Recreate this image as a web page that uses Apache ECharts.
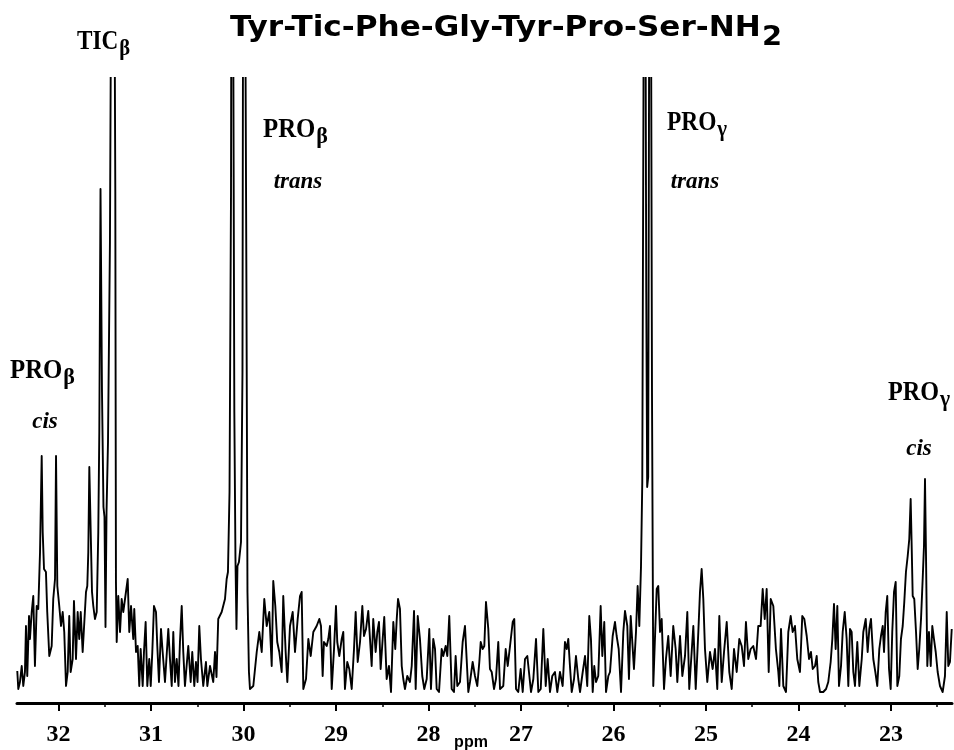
<!DOCTYPE html>
<html>
<head>
<meta charset="utf-8">
<script src="https://cdn.jsdelivr.net/npm/echarts@6/dist/echarts.min.js"></script>
<style>html,body{margin:0;padding:0;background:#fff}#chart{width:954px;height:750px}</style>
</head>
<body>
<div id="chart"></div>
<script>
// ---------------- data ----------------
const titleMain = 'Tyr-Tic-Phe-Gly-Tyr-Pro-Ser-NH';
const titleSub = '2';
const axisUnit = 'ppm';
const majorTicks = [32, 31, 30, 29, 28, 27, 26, 25, 24, 23];
const minorTicks = [31.5, 30.5, 29.5, 28.5, 27.5, 26.5, 25.5, 24.5, 23.5, 22.5];
const ppmMin = 22.34;
const ppmMax = 32.45;

// chemical shift (ppm) of each sample of the trace
const spectrumPpm = [
32.447,32.436,32.418,32.399,32.382,32.364,32.353,32.339,32.320,32.310,32.291,32.274,32.256,32.237,32.220,32.201,32.183,32.172,32.158,32.137,
32.123,32.101,32.075,32.058,32.039,32.028,32.014,31.993,31.974,31.956,31.939,31.920,31.902,31.885,31.870,31.848,31.834,31.812,31.794,31.777,
31.761,31.740,31.722,31.704,31.690,31.679,31.668,31.653,31.639,31.625,31.607,31.588,31.571,31.560,31.547,31.531,31.515,31.504,31.493,31.482,
31.466,31.445,31.428,31.412,31.396,31.387,31.380,31.372,31.355,31.336,31.318,31.301,31.282,31.253,31.236,31.217,31.193,31.182,31.163,31.145,
31.128,31.113,31.091,31.077,31.059,31.041,31.020,31.004,30.987,30.969,30.947,30.933,30.915,30.893,30.875,30.850,30.814,30.796,30.777,30.760,
30.742,30.723,30.704,30.688,30.669,30.652,30.634,30.598,30.572,30.555,30.533,30.515,30.498,30.479,30.461,30.436,30.407,30.392,30.363,30.328,
30.309,30.293,30.274,30.237,30.201,30.183,30.169,30.152,30.136,30.125,30.111,30.100,30.088,30.077,30.066,30.050,30.028,30.012,29.999,29.982,
29.969,29.958,29.942,29.931,29.895,29.858,29.830,29.804,29.776,29.750,29.722,29.696,29.679,29.657,29.636,29.614,29.588,29.571,29.545,29.527,
29.498,29.469,29.444,29.415,29.390,29.372,29.354,29.325,29.300,29.274,29.246,29.210,29.181,29.163,29.145,29.131,29.101,29.084,29.066,29.047,
29.022,29.001,28.987,28.965,28.939,28.922,28.904,28.879,28.857,28.831,28.806,28.788,28.766,28.741,28.716,28.698,28.676,28.652,28.633,28.615,
28.598,28.572,28.554,28.536,28.518,28.496,28.479,28.453,28.428,28.406,28.381,28.360,28.344,28.330,28.309,28.290,28.273,28.255,28.230,28.201,
28.182,28.157,28.139,28.117,28.093,28.068,28.046,28.020,27.992,27.974,27.949,27.930,27.912,27.887,27.858,27.841,27.815,27.797,27.776,27.750,
27.725,27.707,27.689,27.660,27.631,27.606,27.588,27.570,27.552,27.523,27.498,27.473,27.451,27.436,27.415,27.397,27.379,27.354,27.336,27.317,
27.292,27.271,27.246,27.227,27.192,27.166,27.144,27.119,27.090,27.073,27.054,27.030,27.004,26.982,26.957,26.932,26.911,26.892,26.867,26.838,
26.813,26.787,26.759,26.733,26.712,26.687,26.662,26.633,26.608,26.579,26.550,26.525,26.506,26.489,26.471,26.452,26.427,26.406,26.381,26.362,
26.333,26.308,26.284,26.262,26.244,26.225,26.208,26.189,26.165,26.139,26.121,26.100,26.081,26.056,26.038,26.009,25.984,25.966,25.944,25.919,
25.894,25.876,25.851,25.833,25.814,25.797,25.779,25.757,25.739,25.721,25.703,25.689,25.676,25.665,25.654,25.646,25.636,25.625,25.616,25.605,
25.595,25.584,25.570,25.533,25.516,25.497,25.479,25.454,25.433,25.408,25.382,25.354,25.328,25.310,25.281,25.256,25.227,25.202,25.181,25.155,
25.137,25.111,25.083,25.065,25.047,25.029,25.011,24.986,24.957,24.928,24.903,24.878,24.856,24.830,24.805,24.776,24.748,24.722,24.697,24.668,
24.640,24.614,24.589,24.568,24.543,24.517,24.489,24.459,24.435,24.409,24.387,24.365,24.344,24.322,24.300,24.272,24.244,24.218,24.207,24.189,
24.164,24.135,24.110,24.084,24.063,24.038,24.013,23.984,23.959,23.937,23.911,23.886,23.865,23.846,23.821,23.803,23.786,23.767,23.732,23.702,
23.678,23.652,23.634,23.616,23.598,23.580,23.562,23.540,23.522,23.500,23.479,23.461,23.443,23.425,23.407,23.389,23.364,23.342,23.316,23.299,
23.273,23.252,23.234,23.216,23.191,23.169,23.148,23.126,23.108,23.089,23.075,23.057,23.040,23.021,23.003,22.986,22.967,22.949,22.931,22.910,
22.892,22.873,22.856,22.838,22.819,22.802,22.787,22.776,22.765,22.748,22.729,22.711,22.694,22.675,22.657,22.643,22.632,22.621,22.607,22.589,
22.570,22.553,22.535,22.516,22.495,22.470,22.441,22.416,22.397,22.380,22.362,22.343
];

// signal intensity (arbitrary units) of each sample; the tallest lines run off the top of the plot
const spectrumIntensity = [
21,3,10,26,6,20,66,16,76,53,80,96,26,86,83,140,236,160,123,120,
80,36,46,93,113,236,106,86,66,80,60,6,20,76,20,33,91,33,80,53,
80,40,70,100,106,140,225,226,100,86,73,80,160,260,503,300,185,175,65,180,
250,450,800,1100,1100,500,110,50,96,60,93,80,93,113,60,86,53,83,40,46,
6,43,6,40,70,6,33,6,40,86,80,46,10,63,40,10,63,33,6,60,
10,33,6,50,86,40,6,46,10,40,6,30,10,66,33,6,30,6,26,10,
40,15,73,80,93,113,120,200,500,1100,1100,280,135,63,126,130,150,320,1100,1100,
400,100,20,3,6,40,60,40,93,66,80,26,111,86,50,40,20,96,40,10,
66,80,40,73,96,100,3,13,53,36,60,66,73,66,16,50,46,53,66,3,
43,86,50,36,53,60,3,30,23,3,43,80,30,50,86,56,63,81,53,26,
73,40,60,70,23,53,75,13,26,0,70,43,73,93,83,26,13,3,16,10,
26,81,3,76,53,16,3,13,63,3,53,43,3,0,43,36,46,36,76,3,
0,36,6,10,50,66,33,0,10,30,16,6,30,50,43,46,90,63,23,20,
3,13,50,3,6,43,26,46,70,73,3,0,23,0,33,36,36,0,13,53,
0,3,63,6,33,0,16,20,0,20,6,50,43,53,26,0,13,36,13,0,
20,36,6,76,53,0,26,10,16,86,36,70,0,16,20,56,70,56,43,0,
60,81,66,13,76,76,23,60,106,66,125,210,600,1100,1100,400,205,215,600,1100,
1100,300,6,103,106,60,73,3,33,56,16,66,43,10,56,16,36,80,3,40,
66,3,60,100,123,93,43,10,40,23,43,3,76,10,40,70,20,3,43,20,
53,46,26,70,33,43,46,33,66,66,103,73,103,20,93,86,43,20,6,63,
6,0,60,76,60,66,33,20,76,73,56,33,40,23,26,36,10,0,0,3,
10,30,53,88,43,86,6,26,60,80,53,6,63,60,20,6,50,6,33,60,
73,40,63,73,33,20,6,43,56,66,40,80,96,23,3,60,100,110,6,16,
53,66,90,120,136,153,193,146,96,93,60,23,43,73,113,146,213,136,26,60,
26,66,53,40,20,6,0,16,80,26,30,63
];

// ---------------- chart ----------------
const chart = echarts.init(document.getElementById('chart'), null, {renderer: 'canvas'});

const ctx = document.createElement('canvas').getContext('2d');
function textWidth(str, font) { ctx.font = font; return ctx.measureText(str).width; }

const SERIF = '"Liberation Serif", "Times New Roman", serif';
const SANS_T = '"DejaVu Sans", sans-serif';

// title
const tA = 28, tB = 26;
const titleW = textWidth(titleMain, 'bold ' + tA + 'px "DejaVu Sans"') + textWidth(titleSub, 'bold ' + tB + 'px "DejaVu Sans"') + 1;
const titleScale = 552 / titleW;

function peakLabel(main, sub, x, top, targetW) {
  const w = textWidth(main, 'bold 27px "Liberation Serif"') + textWidth(sub, 'bold 24px "Liberation Serif"') + 1;
  return {
    type: 'text', x: x, y: top, scaleX: targetW / w, silent: true,
    style: {
      text: '{a|' + main + '}{b|' + sub + '}',
      x: 0, y: 0, align: 'left', verticalAlign: 'top', fill: '#000',
      rich: {
        a: {fontFamily: SERIF, fontWeight: 'bold', fontSize: 27, lineHeight: 28, verticalAlign: 'top', color: '#000'},
        b: {fontFamily: SERIF, fontWeight: 'bold', fontSize: 24, lineHeight: 26, padding: [8, 0, 0, 1], verticalAlign: 'top', color: '#000'}
      }
    }
  };
}
function italicLabel(txt, cx, cy) {
  return {
    type: 'text', x: cx, y: cy, silent: true,
    style: {text: txt, x: 0, y: 0, align: 'center', verticalAlign: 'middle', fill: '#000',
      fontFamily: SERIF, fontWeight: 'bold', fontStyle: 'italic', fontSize: 23}
  };
}

const option = {
  animation: false,
  backgroundColor: '#fff',
  grid: [
    {left: 17, right: 2, top: 78, bottom: 47},
    {left: 17, right: 2, top: 78, bottom: 47}
  ],
  xAxis: [
    {
      type: 'value', gridIndex: 0, min: ppmMin, max: ppmMax, inverse: true, position: 'bottom',
      axisLine: {show: true, onZero: false, lineStyle: {color: '#000', width: 3}},
      axisTick: {show: true, customValues: majorTicks, length: 8, lineStyle: {color: '#000', width: 2}},
      axisLabel: {show: true, customValues: majorTicks, margin: 20, color: '#000',
        fontFamily: SERIF, fontWeight: 'bold', fontSize: 24,
        formatter: v => String(v)},
      splitLine: {show: false}
    },
    {
      type: 'value', gridIndex: 1, min: ppmMin, max: ppmMax, inverse: true, position: 'bottom',
      axisLine: {show: false, onZero: false},
      axisTick: {show: true, customValues: minorTicks, length: 4, lineStyle: {color: '#000', width: 1.5}},
      axisLabel: {show: false},
      splitLine: {show: false}
    }
  ],
  yAxis: [
    {type: 'value', gridIndex: 0, min: -11, max: 614, show: false, splitLine: {show: false}},
    {type: 'value', gridIndex: 1, min: -11, max: 614, show: false, splitLine: {show: false}}
  ],
  series: [{
    type: 'line',
    xAxisIndex: 0, yAxisIndex: 0,
    data: spectrumPpm.map((p, i) => [p, spectrumIntensity[i]]),
    symbol: 'none', showSymbol: false, clip: true, silent: true,
    lineStyle: {color: '#000', width: 1.9, join: 'round'}
  }],
  graphic: [
    {
      type: 'text', x: 230, y: 15, scaleX: titleScale, silent: true,
      style: {
        text: '{a|' + titleMain + '}{b|' + titleSub + '}',
        x: 0, y: 0, align: 'left', verticalAlign: 'top', fill: '#000',
        rich: {
          a: {fontFamily: SANS_T, fontWeight: 'bold', fontSize: tA, lineHeight: 30, verticalAlign: 'top', color: '#000'},
          b: {fontFamily: SANS_T, fontWeight: 'bold', fontSize: tB, lineHeight: 28, padding: [10, 0, 0, 1], verticalAlign: 'top', color: '#000'}
        }
      }
    },
    peakLabel('TIC', 'β', 77, 29, 53),
    peakLabel('PRO', 'β', 263, 117, 65),
    italicLabel('trans', 298, 182),
    peakLabel('PRO', 'γ', 667, 110, 60),
    italicLabel('trans', 695, 182),
    peakLabel('PRO', 'β', 10, 358, 65),
    italicLabel('cis', 45, 422),
    peakLabel('PRO', 'γ', 888, 380, 62),
    italicLabel('cis', 919, 449),
    {
      type: 'text', x: 471, y: 743, silent: true,
      style: {text: axisUnit, x: 0, y: 0, align: 'center', verticalAlign: 'middle', fill: '#000',
        fontFamily: '"Liberation Sans", Arial, sans-serif', fontWeight: 'bold', fontSize: 16}
    }
  ]
};
chart.setOption(option);
</script>
</body>
</html>
